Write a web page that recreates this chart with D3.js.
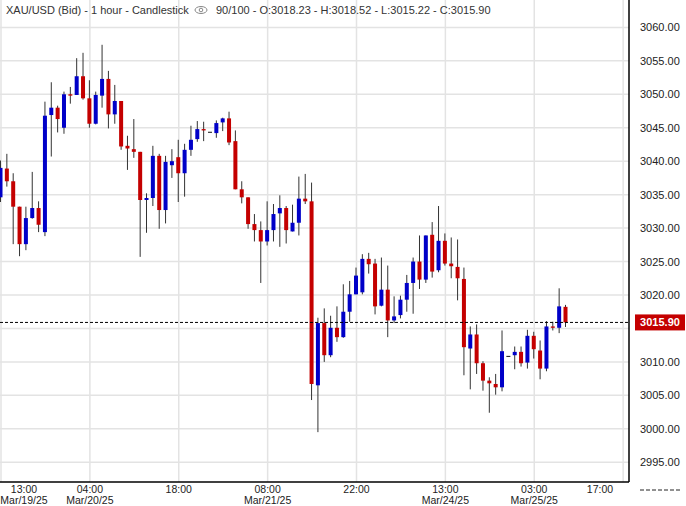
<!DOCTYPE html>
<html lang="en">
<head>
<meta charset="UTF-8">
<title>XAU/USD 1 hour</title>
<script src="https://cdn.jsdelivr.net/npm/d3@7"></script>
<style>
  body { margin: 0; background: #fff; }
  text { font-family: "Liberation Sans", Arial, sans-serif; }
</style>
</head>
<body>
<div id="vis"></div>
<script>
var width = 686, height = 506;
var plotW = 629, plotH = 482;

// OHLC, one row per hourly candle
var opens  = [3034.6,3038.9,3037.0,3033.2,3027.6,3031.5,3033.0,3029.4,3046.9,3048.0,3045.0,3050.0,3049.9,3052.7,3049.4,3045.6,3049.8,3052.3,3047.0,3049.0,
              3042.3,3041.8,3041.4,3034.2,3034.5,3040.8,3032.7,3039.4,3040.6,3038.2,3041.7,3043.3,3044.8,3044.4,3044.2,3045.8,3046.4,3043.0,3035.8,3034.6,
              3030.6,3029.7,3028.0,3029.7,3032.2,3033.0,3029.5,3030.8,3034.4,3034.0,3006.5,3015.8,3011.0,3015.1,3013.7,3017.5,3020.1,3020.4,3025.4,3024.7,
              3018.4,3020.8,3016.2,3017.0,3019.3,3021.8,3025.0,3022.3,3029.0,3023.7,3028.1,3024.7,3024.2,3022.4,3012.0,3014.1,3009.8,3007.2,3006.7,3006.2,
              3010.9,3011.0,3011.5,3009.9,3013.9,3011.7,3009.0,3015.3,3015.1,3018.23];
var highs  = [3040.1,3041.1,3038.2,3033.2,3033.2,3038.4,3034.0,3048.9,3051.8,3048.3,3050.4,3051.1,3055.4,3056.2,3052.1,3050.4,3057.4,3053.5,3051.4,3049.0,
              3043.8,3046.3,3041.4,3035.2,3042.3,3041.1,3040.8,3041.8,3043.2,3042.6,3045.3,3046.0,3045.9,3044.4,3046.1,3046.5,3047.4,3044.6,3037.0,3034.6,
              3032.1,3031.0,3034.0,3033.6,3034.9,3033.3,3033.5,3037.7,3038.1,3036.8,3016.6,3018.0,3016.9,3018.3,3021.6,3022.1,3024.1,3026.1,3026.3,3025.4,
              3025.6,3024.4,3019.8,3019.9,3023.0,3025.6,3028.9,3028.9,3030.9,3033.3,3029.2,3028.6,3028.3,3024.1,3015.3,3015.6,3010.1,3007.7,3008.2,3014.7,
              3010.9,3012.3,3012.3,3014.8,3014.5,3013.2,3016.1,3016.0,3021.0,3018.52];
var lows   = [3033.9,3036.2,3027.6,3025.8,3026.7,3031.4,3029.4,3028.8,3040.7,3044.3,3044.1,3048.6,3049.9,3049.2,3045.0,3045.5,3048.0,3044.9,3045.6,3041.7,
              3038.7,3040.5,3025.7,3029.3,3033.3,3029.9,3030.7,3037.5,3033.9,3034.7,3040.8,3042.9,3043.0,3044.4,3043.5,3044.5,3042.4,3035.8,3033.7,3029.9,
              3028.0,3021.8,3027.4,3028.0,3027.2,3027.7,3029.5,3028.9,3033.6,3004.3,2999.5,3010.0,3010.7,3013.0,3013.6,3016.0,3020.1,3020.1,3023.2,3017.1,
              3018.3,3013.7,3015.8,3016.5,3017.5,3017.2,3020.9,3021.8,3022.6,3023.4,3024.4,3022.5,3019.2,3008.0,3005.9,3008.2,3005.7,3002.4,3005.1,3005.6,
              3010.9,3008.9,3009.3,3009.0,3010.5,3007.4,3008.6,3014.7,3014.3,3015.22];
var closes = [3039.0,3037.0,3033.2,3027.6,3031.5,3033.0,3030.5,3046.8,3048.0,3046.3,3050.0,3049.8,3052.7,3049.4,3045.6,3049.9,3052.3,3047.0,3049.0,3042.2,
              3041.9,3041.4,3034.2,3034.5,3040.8,3032.7,3039.9,3040.0,3038.2,3041.7,3043.2,3044.8,3044.6,3044.4,3045.7,3046.4,3042.8,3035.8,3034.6,3030.6,
              3029.7,3028.0,3029.7,3032.1,3033.0,3029.7,3030.8,3034.4,3034.0,3006.7,3015.8,3011.0,3015.1,3013.7,3017.5,3020.1,3022.9,3025.4,3024.6,3018.3,
              3020.8,3016.2,3016.8,3019.3,3021.8,3025.0,3022.3,3028.9,3023.5,3028.1,3024.7,3024.3,3022.5,3012.2,3014.1,3009.8,3007.2,3006.8,3006.2,3011.6,
              3010.9,3011.5,3009.8,3013.9,3011.9,3009.0,3015.3,3015.1,3018.3,3015.90];

var yTicks = [2995, 3000, 3005, 3010, 3015, 3020, 3025, 3030, 3035, 3040, 3045, 3050, 3055, 3060];
var xTickIdx = [0, 14, 28, 42, 56, 70, 84, 98];
var xTickTime = ["13:00", "04:00", "18:00", "08:00", "22:00", "13:00", "03:00", "17:00"];
var xTickDate = ["Mar/19/25", "Mar/20/25", "", "Mar/21/25", "", "Mar/24/25", "Mar/25/25", ""];
var lastPrice = 3015.90;

var candles = opens.map(function(o, i) {
  return { i: i, o: o, h: highs[i], l: lows[i], c: closes[i] };
});

var x = d3.scaleLinear().domain([0, 89]).range([0, 565]);
var y = d3.scaleLinear().domain([3000, 3050]).range([428.8, 94.3]);

var svg = d3.select("#vis").append("svg")
  .attr("width", width).attr("height", height);

var plot = svg.append("g");
plot.append("clipPath").attr("id", "clip")
  .append("rect").attr("width", plotW).attr("height", plotH);

var grid = plot.append("g").attr("clip-path", "url(#clip)");
grid.selectAll(".hg").data(yTicks).enter().append("line")
  .attr("x1", 0).attr("x2", plotW)
  .attr("y1", function(d) { return y(d); }).attr("y2", function(d) { return y(d); })
  .attr("stroke", "#e3e3e3").attr("stroke-width", 1.5);
grid.selectAll(".vg").data(xTickIdx).enter().append("line")
  .attr("x1", function(d) { return x(d) + 1; }).attr("x2", function(d) { return x(d) + 1; })
  .attr("y1", 0).attr("y2", plotH)
  .attr("stroke", "#e3e3e3").attr("stroke-width", 1.5);

// candles
var cg = plot.append("g").attr("clip-path", "url(#clip)");
var bars = cg.selectAll(".c").data(candles).enter().append("g");
bars.append("line")
  .attr("x1", function(d) { return x(d.i) + 0.5; }).attr("x2", function(d) { return x(d.i) + 0.5; })
  .attr("y1", function(d) { return y(d.h); }).attr("y2", function(d) { return y(d.l); })
  .attr("stroke", "#333").attr("stroke-width", 1);
bars.append("rect")
  .attr("x", function(d) { return x(d.i) - 1.5; })
  .attr("width", 4)
  .attr("y", function(d) { return y(Math.max(d.o, d.c)); })
  .attr("height", function(d) { return Math.max(1, Math.abs(y(d.o) - y(d.c))); })
  .attr("fill", function(d) {
    if (d.c === d.o) return "#111";
    return d.c > d.o ? "#0000c8" : "#c40000";
  });

// current price line
plot.append("line")
  .attr("x1", 0).attr("x2", plotW)
  .attr("y1", y(lastPrice)).attr("y2", y(lastPrice))
  .attr("stroke", "#000").attr("stroke-dasharray", "3,2");

// frame
svg.append("line").attr("x1", plotW).attr("x2", plotW).attr("y1", 0).attr("y2", plotH)
  .attr("stroke", "#000").attr("stroke-width", 1.5);
svg.append("line").attr("x1", 0).attr("x2", plotW).attr("y1", plotH).attr("y2", plotH)
  .attr("stroke", "#000").attr("stroke-width", 1.5);

// y axis labels (3015.00 is hidden behind the price tag)
svg.selectAll(".yl").data(yTicks.filter(function(d) { return d !== 3015; })).enter().append("text")
  .attr("x", 640).attr("y", function(d) { return y(d) + 4; })
  .attr("font-size", 11).attr("fill", "#222")
  .text(function(d) { return d.toFixed(2); });
svg.append("line").attr("x1", 640).attr("x2", 682).attr("y1", 490).attr("y2", 490)
  .attr("stroke", "#222").attr("stroke-dasharray", "4,2");

// last price tag
svg.append("rect").attr("x", 635).attr("y", y(lastPrice) - 8).attr("width", 50).attr("height", 16)
  .attr("fill", "#c40000");
svg.append("text").attr("x", 660).attr("y", y(lastPrice) + 4)
  .attr("text-anchor", "middle").attr("font-size", 11).attr("font-weight", "bold").attr("fill", "#fff")
  .text(lastPrice.toFixed(2));

// x axis labels
var xl = svg.selectAll(".xl").data(xTickIdx).enter().append("g")
  .attr("transform", function(d, k) {
    var px = x(d) + 1;
    if (k === 0) px = 24;
    if (px > 600) px = 600;
    return "translate(" + px + ",0)";
  });
xl.append("text").attr("y", 493).attr("text-anchor", "middle").attr("font-size", 10.5).attr("fill", "#222")
  .text(function(d, k) { return xTickTime[k]; });
xl.append("text").attr("y", 504).attr("text-anchor", "middle").attr("font-size", 10.5).attr("fill", "#222")
  .text(function(d, k) { return xTickDate[k]; });

// header
var hdr = svg.append("g").attr("font-size", 11).attr("fill", "#333");
hdr.append("text").attr("x", 6).attr("y", 14).text("XAU/USD (Bid) - 1 hour - Candlestick");
var eye = svg.append("g").attr("transform", "translate(201,10)");
eye.append("ellipse").attr("rx", 6).attr("ry", 3.5).attr("fill", "none").attr("stroke", "#888");
eye.append("circle").attr("r", 1.8).attr("fill", "none").attr("stroke", "#888");
hdr.append("text").attr("x", 216).attr("y", 14)
  .text("90/100 - O:3018.23 - H:3018.52 - L:3015.22 - C:3015.90");
</script>
</body>
</html>
